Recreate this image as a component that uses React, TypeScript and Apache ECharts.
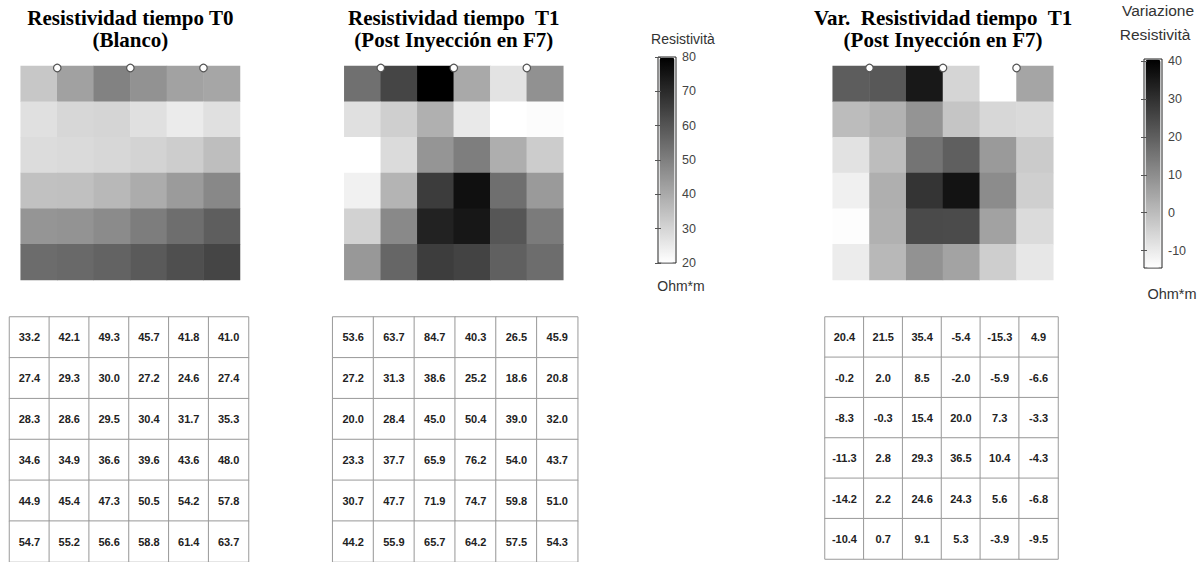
import React, { useEffect, useRef } from "react";
import * as echarts from "echarts";

// ---- data ----
const cols = ["1", "2", "3", "4", "5", "6"];
const rows = ["1", "2", "3", "4", "5", "6"];

const resT0: number[][] = [
  [33.2, 42.1, 49.3, 45.7, 41.8, 41.0],
  [27.4, 29.3, 30.0, 27.2, 24.6, 27.4],
  [28.3, 28.6, 29.5, 30.4, 31.7, 35.3],
  [34.6, 34.9, 36.6, 39.6, 43.6, 48.0],
  [44.9, 45.4, 47.3, 50.5, 54.2, 57.8],
  [54.7, 55.2, 56.6, 58.8, 61.4, 63.7],
];
const resT1: number[][] = [
  [53.6, 63.7, 84.7, 40.3, 26.5, 45.9],
  [27.2, 31.3, 38.6, 25.2, 18.6, 20.8],
  [20.0, 28.4, 45.0, 50.4, 39.0, 32.0],
  [23.3, 37.7, 65.9, 76.2, 54.0, 43.7],
  [30.7, 47.7, 71.9, 74.7, 59.8, 51.0],
  [44.2, 55.9, 65.7, 64.2, 57.5, 54.3],
];
const varT1: number[][] = [
  [20.4, 21.5, 35.4, -5.4, -15.3, 4.9],
  [-0.2, 2.0, 8.5, -2.0, -5.9, -6.6],
  [-8.3, -0.3, 15.4, 20.0, 7.3, -3.3],
  [-11.3, 2.8, 29.3, 36.5, 10.4, -4.3],
  [-14.2, 2.2, 24.6, 24.3, 5.6, -6.8],
  [-10.4, 0.7, 9.1, 5.3, -3.9, -9.5],
];
const electrodeX = [1, 3, 5];
const electrodeDepth = [0, 0, 0];

const titles = [
  "Resistividad tiempo T0\n(Blanco)",
  "Resistividad tiempo  T1\n(Post Inyección en F7)",
  "Var.  Resistividad tiempo  T1\n(Post Inyección en F7)",
];
const resRange = [20, 80];
const resTicks = [20, 30, 40, 50, 60, 70, 80];
const varRange = [-14.6, 40.6];
const varTicks = [-10, 0, 10, 20, 30, 40];
const grayScale = ["#ffffff", "#000000"];

const toCells = (m: number[][]) => {
  const out: [number, number, number][] = [];
  m.forEach((row, r) => row.forEach((v, c) => out.push([c, r, v])));
  return out;
};

// ---- layout ----
const heatBoxes = [
  { left: 20.7, top: 66, width: 219.3, height: 214 },
  { left: 344.3, top: 66, width: 219, height: 214 },
  { left: 832.7, top: 66, width: 220.6, height: 214 },
];
const tableBoxes = [
  { left: 9.5, top: 317, width: 239, height: 250 },
  { left: 332.7, top: 317, width: 245, height: 250 },
  { left: 825, top: 317, width: 233, height: 242 },
];
const cbBoxes = [
  { left: 658, top: 57, width: 18, height: 206 },
  { left: 1144, top: 59, width: 18, height: 209 },
];

export default function App() {
  const ref = useRef<HTMLDivElement>(null);
  useEffect(() => {
    document.body.style.margin = "0";
    const chart = echarts.init(ref.current!, undefined, { renderer: "svg" });
    const mats = [resT0, resT1, varT1];

    const grid: any[] = [];
    const xAxis: any[] = [];
    const yAxis: any[] = [];
    const series: any[] = [];

    [...heatBoxes, ...tableBoxes].forEach((b, i) => {
      grid.push({ ...b });
      xAxis.push({ type: "category", data: cols, gridIndex: i, show: false });
      yAxis.push({ type: "category", data: rows, gridIndex: i, inverse: true, show: false });
    });
    heatBoxes.forEach((_, i) => {
      xAxis.push({ type: "value", gridIndex: i, min: 0, max: 6, show: false });
      yAxis.push({ type: "value", gridIndex: i, min: 0, max: 6, inverse: true, show: false });
    });
    cbBoxes.forEach((b, k) => {
      const gi = 6 + k;
      grid.push({ ...b, show: true, borderColor: "#222", borderWidth: 1, backgroundColor: "transparent" });
      xAxis.push({ type: "value", gridIndex: gi, min: 0, max: 1, show: false });
    });
    const cbAxis = (gi: number, range: number[], ticks: number[], pos: string, labels: boolean, fs: number) => ({
      type: "value",
      gridIndex: gi,
      position: pos,
      min: range[0],
      max: range[1],
      z: 10,
      splitLine: { show: false },
      axisLine: { show: false },
      axisTick: { show: true, inside: true, length: 3, customValues: ticks, lineStyle: { color: "#555" } },
      axisLabel: {
        show: labels,
        customValues: ticks,
        margin: 6,
        color: "#444",
        fontSize: fs,
        fontFamily: "Liberation Sans",
      },
    });
    yAxis.push(cbAxis(6, resRange, resTicks, "right", true, 12.5));
    yAxis.push(cbAxis(7, varRange, varTicks, "right", true, 12.5));
    yAxis.push(cbAxis(6, resRange, resTicks, "left", false, 12));
    yAxis.push(cbAxis(7, varRange, varTicks, "left", false, 12));

    mats.forEach((m, i) => {
      series.push({
        type: "heatmap",
        xAxisIndex: i,
        yAxisIndex: i,
        data: toCells(m),
        itemStyle: { borderWidth: 0 },
        emphasis: { disabled: true },
      });
    });
    heatBoxes.forEach((_, i) => {
      series.push({
        type: "scatter",
        xAxisIndex: 6 + i,
        yAxisIndex: 6 + i,
        data: electrodeX.map((x, k) => [x, electrodeDepth[k]]),
        symbol: "circle",
        symbolSize: 7.5,
        symbolOffset: [0, 2],
        itemStyle: { color: "#ffffff", borderColor: "#555", borderWidth: 1.2, opacity: 1 },
        z: 5,
        silent: true,
      });
    });
    mats.forEach((m, i) => {
      series.push({
        type: "heatmap",
        xAxisIndex: 3 + i,
        yAxisIndex: 3 + i,
        data: toCells(m),
        itemStyle: { borderColor: "#9a9a9a", borderWidth: 1 },
        label: {
          show: true,
          formatter: (p: any) => Number(p.value[2]).toFixed(1),
          color: "#222",
          fontSize: 11,
          fontWeight: "bold",
          fontFamily: "Liberation Sans",
        },
        emphasis: { disabled: true },
      });
    });

    const graphicTexts: any[] = titles.map((t, i) => ({
      type: "text",
      x: heatBoxes[i].left + heatBoxes[i].width / 2,
      y: 7,
      style: {
        text: t,
        align: "center",
        verticalAlign: "top",
        fontFamily: "Liberation Serif",
        fontWeight: "bold",
        fontSize: 21,
        lineHeight: 22,
        fill: "#000",
      },
    }));
    const sans = (text: string, x: number, y: number, size: number) => ({
      type: "text",
      x,
      y,
      style: {
        text,
        align: "center",
        verticalAlign: "middle",
        fontFamily: "Liberation Sans",
        fontSize: size,
        fill: "#333",
      },
    });
    graphicTexts.push(sans("Resistività", 683, 39, 14));
    graphicTexts.push(sans("Ohm*m", 681, 286, 14));
    graphicTexts.push(sans("Variazione", 1158, 10, 15.5));
    graphicTexts.push(sans("Resistività", 1155, 34, 15.5));
    graphicTexts.push(sans("Ohm*m", 1172, 294, 14.5));

    chart.setOption({
      animation: false,
      backgroundColor: "#ffffff",
      grid,
      xAxis,
      yAxis,
      series,
      graphic: graphicTexts,
      visualMap: [
        {
          type: "continuous",
          seriesIndex: [0, 1],
          min: resRange[0],
          max: resRange[1],
          calculable: false,
          inRange: { color: grayScale },
          show: true,
          orient: "vertical",
          left: cbBoxes[0].left + 1.5,
          top: cbBoxes[0].top + 0.5,
          padding: 0,
          itemWidth: cbBoxes[0].width - 3,
          itemHeight: cbBoxes[0].height - 1,
          hoverLink: false,
        },
        {
          type: "continuous",
          seriesIndex: [2],
          min: varRange[0],
          max: varRange[1],
          calculable: false,
          inRange: { color: grayScale },
          show: true,
          orient: "vertical",
          left: cbBoxes[1].left + 1.5,
          top: cbBoxes[1].top + 0.5,
          padding: 0,
          itemWidth: cbBoxes[1].width - 3,
          itemHeight: cbBoxes[1].height - 1,
          hoverLink: false,
        },
        {
          type: "continuous",
          seriesIndex: [6, 7, 8],
          min: -100,
          max: 100,
          show: false,
          inRange: { color: ["#ffffff", "#ffffff"] },
        },
      ],
    });
    return () => chart.dispose();
  }, []);
  return <div ref={ref} style={{ width: 1197, height: 562 }} />;
}
